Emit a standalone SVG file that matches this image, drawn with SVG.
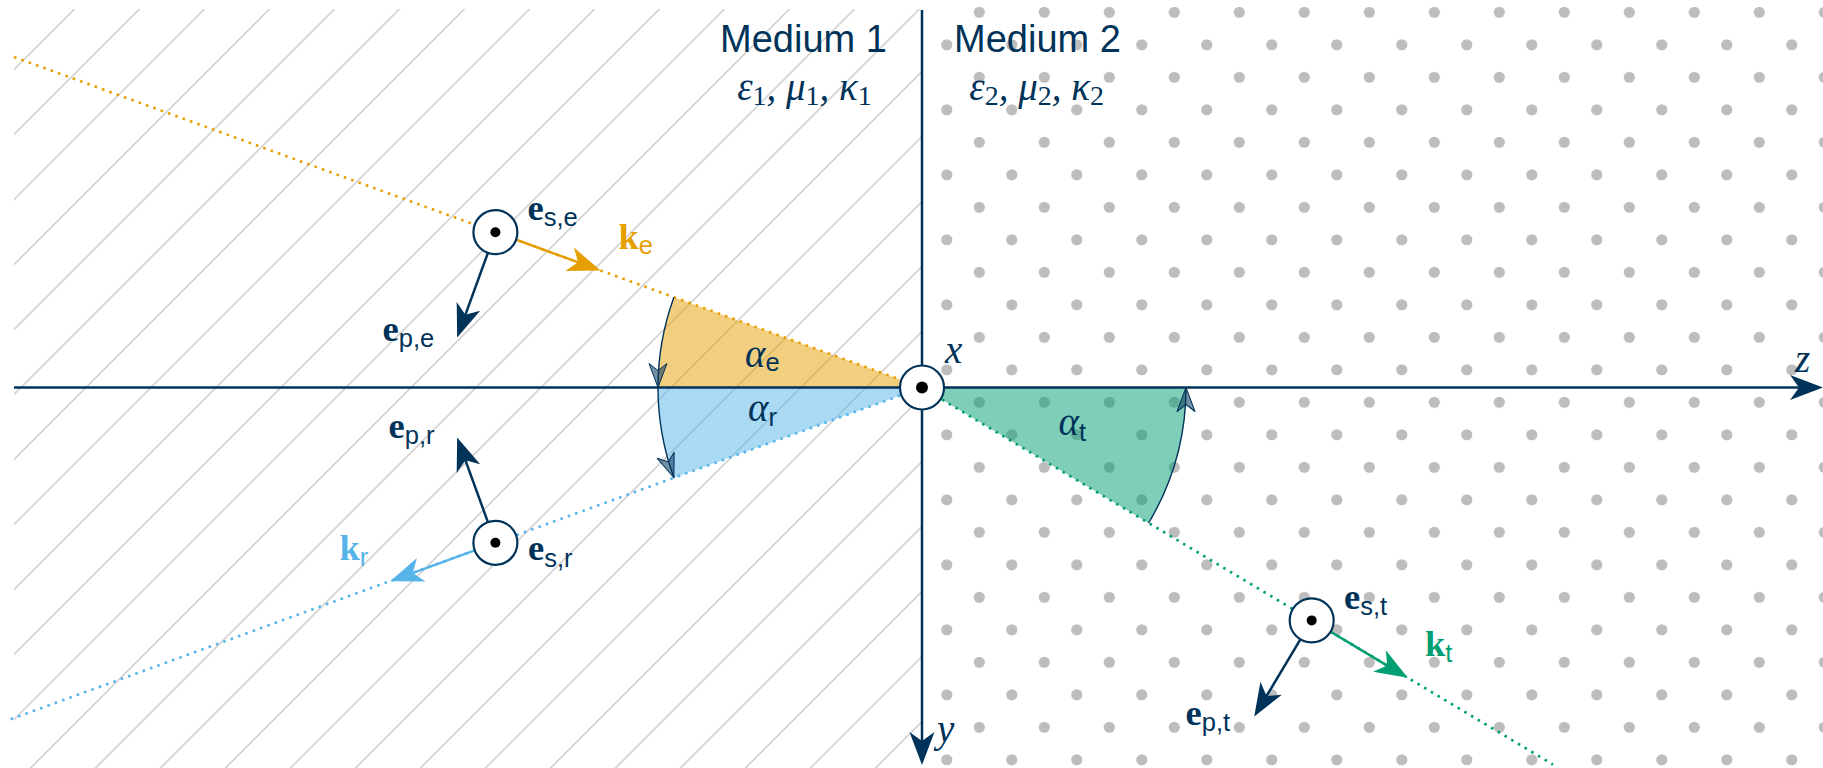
<svg xmlns="http://www.w3.org/2000/svg" width="1823" height="768" viewBox="0 0 1823 768">
<style>
.hatchline{stroke:#b9b9b9;stroke-width:1.1;fill:none}
.axis{stroke:#003359;stroke-width:2.5;fill:none}
.ray{fill:none;stroke-width:2.6;stroke-dasharray:2.6 5.2}
.arc{fill:none;stroke:#003359;stroke-width:1.4}
.vec{fill:none;stroke-width:2.5}
.pol{fill:#fff;stroke:#003359;stroke-width:2.2}
.dot{fill:#000}
.bv{font-family:"Liberation Serif",serif;font-weight:bold;font-size:36.5px;fill:#003359}
.sub{font-family:"Liberation Sans",Arial,sans-serif;font-weight:normal;font-style:normal;font-size:25.5px}
.math{font-family:"Liberation Serif",serif;font-style:italic;font-size:39px;fill:#003359}
.num{font-style:normal;font-size:28px}
.med{font-family:"Liberation Sans",Arial,sans-serif;font-size:38px;fill:#003359}
</style>
<defs>
<pattern id="hatch" patternUnits="userSpaceOnUse" x="18.5" y="0" width="65" height="65">
<path d="M-1,66 L66,-1 M-2,2 L2,-2 M63,67 L67,63" class="hatchline"/>
</pattern>
<pattern id="dots" patternUnits="userSpaceOnUse" x="53.05" y="61.05" width="65" height="65">
<circle cx="16.25" cy="16.25" r="5.6" fill="#bdbdbd"/>
<circle cx="48.75" cy="48.75" r="5.6" fill="#bdbdbd"/>
</pattern>
<marker id="ah-navy" markerUnits="userSpaceOnUse" orient="auto" refX="0" refY="0" markerWidth="10" markerHeight="10" style="overflow:visible">
<path d="M20,0 L-13,-12.5 L-4,0 L-13,12.5 Z" fill="#003359"/>
</marker>
<marker id="ah-orange" markerUnits="userSpaceOnUse" orient="auto" refX="0" refY="0" markerWidth="10" markerHeight="10" style="overflow:visible">
<path d="M20,0 L-13,-12.5 L-4,0 L-13,12.5 Z" fill="#E69F00"/>
</marker>
<marker id="ah-blue" markerUnits="userSpaceOnUse" orient="auto" refX="0" refY="0" markerWidth="10" markerHeight="10" style="overflow:visible">
<path d="M20,0 L-13,-12.5 L-4,0 L-13,12.5 Z" fill="#56B4E9"/>
</marker>
<marker id="ah-green" markerUnits="userSpaceOnUse" orient="auto" refX="0" refY="0" markerWidth="10" markerHeight="10" style="overflow:visible">
<path d="M20,0 L-13,-12.5 L-4,0 L-13,12.5 Z" fill="#009E73"/>
</marker>
<marker id="ah-arc" markerUnits="userSpaceOnUse" orient="auto" refX="0" refY="0" markerWidth="10" markerHeight="10" style="overflow:visible">
<path d="M0,0 L-24,-9 L-17,0 L-24,9 Z" fill="#003359" fill-opacity="0.55" stroke="#003359" stroke-width="1" stroke-linejoin="round"/>
</marker>
</defs>

<g id="media">
<rect x="14" y="9" width="908" height="759" fill="url(#hatch)"/>
<rect x="922" y="7" width="901" height="761" fill="url(#dots)"/>
</g>

<g id="angle-wedges">
<path d="M922,387.5 L673.92,297.21 A264,264 0 0,0 658,387.5 Z" fill="#E69F00" fill-opacity="0.5"/>
<path d="M922,387.5 L658,387.5 A264,264 0 0,0 673.92,477.79 Z" fill="#56B4E9" fill-opacity="0.5"/>
<path d="M922,387.5 L1148.6,523 A264,264 0 0,0 1186,387.5 Z" fill="#009E73" fill-opacity="0.5"/>
</g>

<g id="connectors">
<line class="ray" x1="14" y1="57" x2="922" y2="387.5" stroke="#E69F00"/>
<line class="ray" x1="922" y1="387.5" x2="8" y2="720.2" stroke="#56B4E9"/>
<line class="ray" x1="922" y1="387.5" x2="1553" y2="764.6" stroke="#009E73"/>
<line class="axis" x1="14" y1="387.5" x2="1803" y2="387.5" marker-end="url(#ah-navy)"/>
<line class="axis" x1="922" y1="10" x2="922" y2="745" marker-end="url(#ah-navy)"/>
<path class="arc" d="M673.92,297.21 A264,264 0 0,0 658,387.5" marker-end="url(#ah-arc)"/>
<path class="arc" d="M658,387.5 A264,264 0 0,0 673.92,477.79" marker-end="url(#ah-arc)"/>
<path class="arc" d="M1148.6,523 A264,264 0 0,0 1186,387.5" marker-end="url(#ah-arc)"/>
</g>

<g id="medium1-label">
<text class="med" x="803.5" y="52.3" text-anchor="middle">Medium 1</text>
<text class="math" x="804.5" y="100" text-anchor="middle">ε<tspan class="num" dy="4.5">1</tspan><tspan dy="-4.5">, μ</tspan><tspan class="num" dy="4.5">1</tspan><tspan dy="-4.5">, κ</tspan><tspan class="num" dy="4.5">1</tspan></text>
</g>
<g id="medium2-label">
<text class="med" x="1037.5" y="52.3" text-anchor="middle">Medium 2</text>
<text class="math" x="1036.7" y="100" text-anchor="middle">ε<tspan class="num" dy="4.5">2</tspan><tspan dy="-4.5">, μ</tspan><tspan class="num" dy="4.5">2</tspan><tspan dy="-4.5">, κ</tspan><tspan class="num" dy="4.5">2</tspan></text>
</g>

<g id="axis-labels">
<text class="math" x="945" y="363">x</text>
<text class="math" x="1795" y="371.5">z</text>
<text class="math" x="937" y="742">y</text>
</g>

<g id="angle-labels">
<text class="math" x="745" y="366.7">α<tspan class="sub" dy="4.3">e</tspan></text>
<text class="math" x="748" y="420.7">α<tspan class="sub" dy="5.3">r</tspan></text>
<text class="math" x="1058.5" y="435">α<tspan class="sub" dy="5.7">t</tspan></text>
</g>

<g id="origin">
<circle class="pol" cx="922" cy="387.5" r="22"/>
<circle class="dot" cx="922" cy="387.5" r="6"/>
</g>

<g id="pol-incident">
<line class="vec" x1="516.1" y1="239.7" x2="581.8" y2="263.7" stroke="#E69F00" marker-end="url(#ah-orange)"/>
<line class="vec" x1="487.9" y1="252.9" x2="464" y2="318.6" stroke="#003359" marker-end="url(#ah-navy)"/>
<circle class="pol" cx="495.4" cy="232.2" r="22"/>
<circle class="dot" cx="495.4" cy="232.2" r="5"/>
<text class="bv" x="527.5" y="219.5">e<tspan class="sub" dy="6.5">s,e</tspan></text>
<text class="bv" x="618.5" y="248.5" style="fill:#E69F00">k<tspan class="sub" dy="5.5">e</tspan></text>
<text class="bv" x="382.5" y="340.5">e<tspan class="sub" dy="6">p,e</tspan></text>
</g>

<g id="pol-reflected">
<line class="vec" x1="474.7" y1="550.3" x2="409" y2="574.3" stroke="#56B4E9" marker-end="url(#ah-blue)"/>
<line class="vec" x1="487.9" y1="522.1" x2="464" y2="456.4" stroke="#003359" marker-end="url(#ah-navy)"/>
<circle class="pol" cx="495.4" cy="542.8" r="22"/>
<circle class="dot" cx="495.4" cy="542.8" r="5"/>
<text class="bv" x="528" y="560">e<tspan class="sub" dy="6.5">s,r</tspan></text>
<text class="bv" x="339.5" y="560" style="fill:#56B4E9">k<tspan class="sub" dy="6">r</tspan></text>
<text class="bv" x="388.5" y="437.7">e<tspan class="sub" dy="6">p,r</tspan></text>
</g>

<g id="pol-transmitted">
<line class="vec" x1="1330.6" y1="631.7" x2="1390.6" y2="667.6" stroke="#009E73" marker-end="url(#ah-green)"/>
<line class="vec" x1="1300.4" y1="639.3" x2="1264.5" y2="699.4" stroke="#003359" marker-end="url(#ah-navy)"/>
<circle class="pol" cx="1311.7" cy="620.4" r="22"/>
<circle class="dot" cx="1311.7" cy="620.4" r="5"/>
<text class="bv" x="1344" y="609.3">e<tspan class="sub" dy="6">s,t</tspan></text>
<text class="bv" x="1425" y="656" style="fill:#009E73">k<tspan class="sub" dy="5.5">t</tspan></text>
<text class="bv" x="1185.5" y="725">e<tspan class="sub" dy="6">p,t</tspan></text>
</g>
</svg>
